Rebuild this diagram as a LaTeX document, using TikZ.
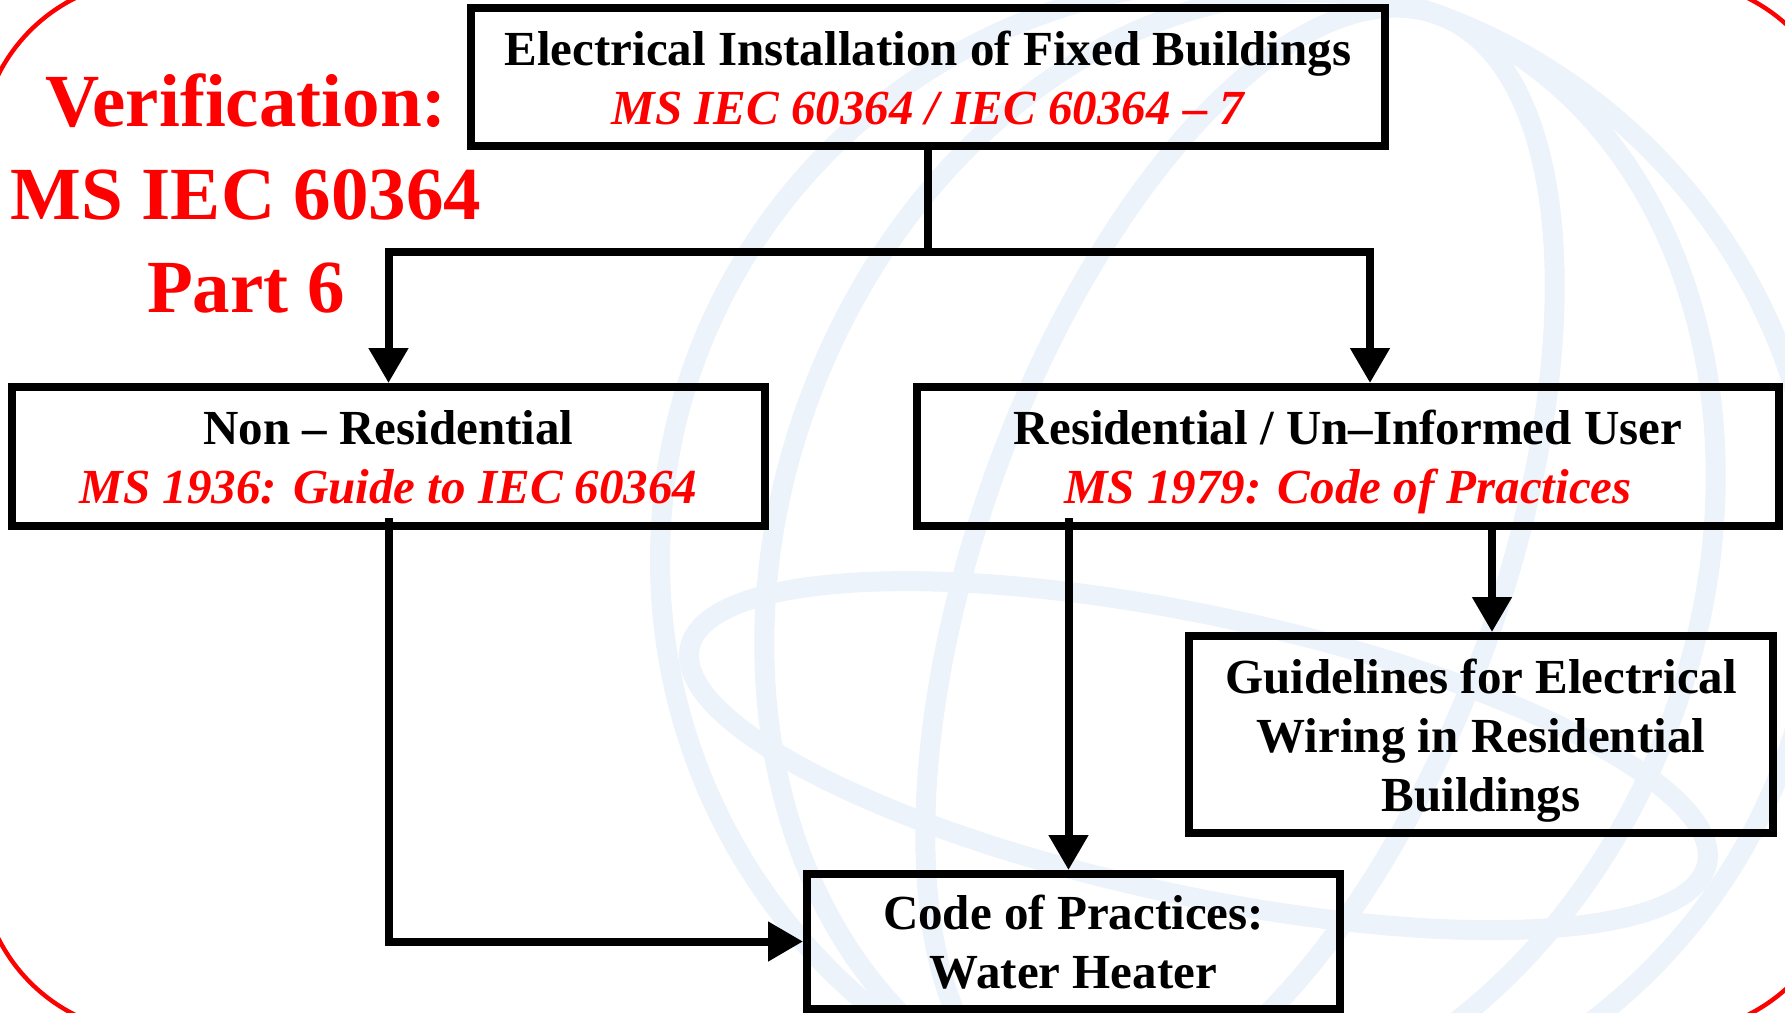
\documentclass[tikz,border=0pt]{standalone}
\usepackage{fontspec}
\setmainfont{Liberation Serif}
\definecolor{iecred}{HTML}{FF0000}
\definecolor{globeblue}{HTML}{EDF3FA}
\usetikzlibrary{arrows.meta, positioning, calc}
\newcommand{\lnstrut}{\rule[-5.5pt]{0pt}{28.5pt}}

\begin{document}
\begin{tikzpicture}[
    x=0.5pt, y=-0.5pt,
    box/.style={rectangle, draw=black, line width=4pt, inner sep=0pt,
                text centered, align=center,
                font=\fontsize{24.5}{29.5}\selectfont\bfseries},
    arr/.style={-{Triangle[width=19pt, length=17.5pt]}, line width=4pt}
  ]
  \useasboundingbox (0,0) rectangle (1785,1013);
  \clip (0,0) rectangle (1785,1013);

  % faint globe behind the chart
  \begin{scope}[globeblue, line width=10pt]
    \draw (1240,560) circle[radius=290pt];
    \draw[rotate around={-20:(1240,560)}] (1240,560) ellipse[x radius=130pt, y radius=290pt];
    \draw[rotate around={-20:(1240,560)}] (1240,560) ellipse[x radius=230pt, y radius=290pt];
    \draw[rotate around={-12:(1240,560)}] (1240,760) ellipse[x radius=260pt, y radius=70pt];
  \end{scope}

  % red frame, only its corners fall inside the page
  \draw[iecred, line width=2.2pt]
    (-20,861) -- (-20,152) arc[start angle=180, end angle=270, radius=172]
    -- (1671,-20) arc[start angle=270, end angle=360, radius=172]
    -- (1843,861) arc[start angle=0, end angle=90, radius=172]
    -- (152,1033) arc[start angle=90, end angle=180, radius=172] -- cycle;

  \node[iecred, align=center, font=\fontsize{37.5}{46.5}\selectfont\bfseries]
    (verif) at (246,193) {Verification:\\ MS IEC 60364\\ Part 6};

  \node[box, minimum width=457pt, minimum height=69pt] (fixed) at (928,77)
    {\lnstrut Electrical Installation of Fixed Buildings\\
     \textcolor{iecred}{\itshape MS IEC 60364 / IEC 60364 – 7}\lnstrut};
  \node[box, minimum width=376.5pt, minimum height=69.5pt] (nonres) at (388.5,456.5)
    {\lnstrut Non – Residential\\
     \textcolor{iecred}{\itshape MS 1936: Guide to IEC 60364}\lnstrut};
  \node[box, minimum width=431pt, minimum height=69.5pt] (res) at (1348,456.5)
    {\lnstrut Residential / Un–Informed User\\
     \textcolor{iecred}{\itshape MS 1979: Code of Practices}\lnstrut};
  \node[box, minimum width=292pt, minimum height=98.5pt] (guide) at (1481,734.5)
    {\lnstrut Guidelines for Electrical\\ Wiring in Residential\\ Buildings\lnstrut};
  \node[box, minimum width=266.5pt, minimum height=67.5pt] (code) at (1073.5,941.5)
    {\lnstrut Code of Practices:\\ Water Heater\lnstrut};

  \coordinate (split) at (fixed.south |- 0,252);

  \draw[arr] (fixed.south) -- (split) -| (nonres.north);
  \draw[arr] (split) -| ([xshift=11pt]res.north);
  \draw[arr] ($(nonres.south)+(0,-12)$) |- (code.west);
  \draw[arr] ($(res.south -| code.north)+(-5,-12)$) -- ([xshift=-2.5pt]code.north);
  \draw[arr] ([xshift=5.5pt]guide.north |- res.south) -- ([xshift=5.5pt]guide.north);
\end{tikzpicture}
\end{document}
